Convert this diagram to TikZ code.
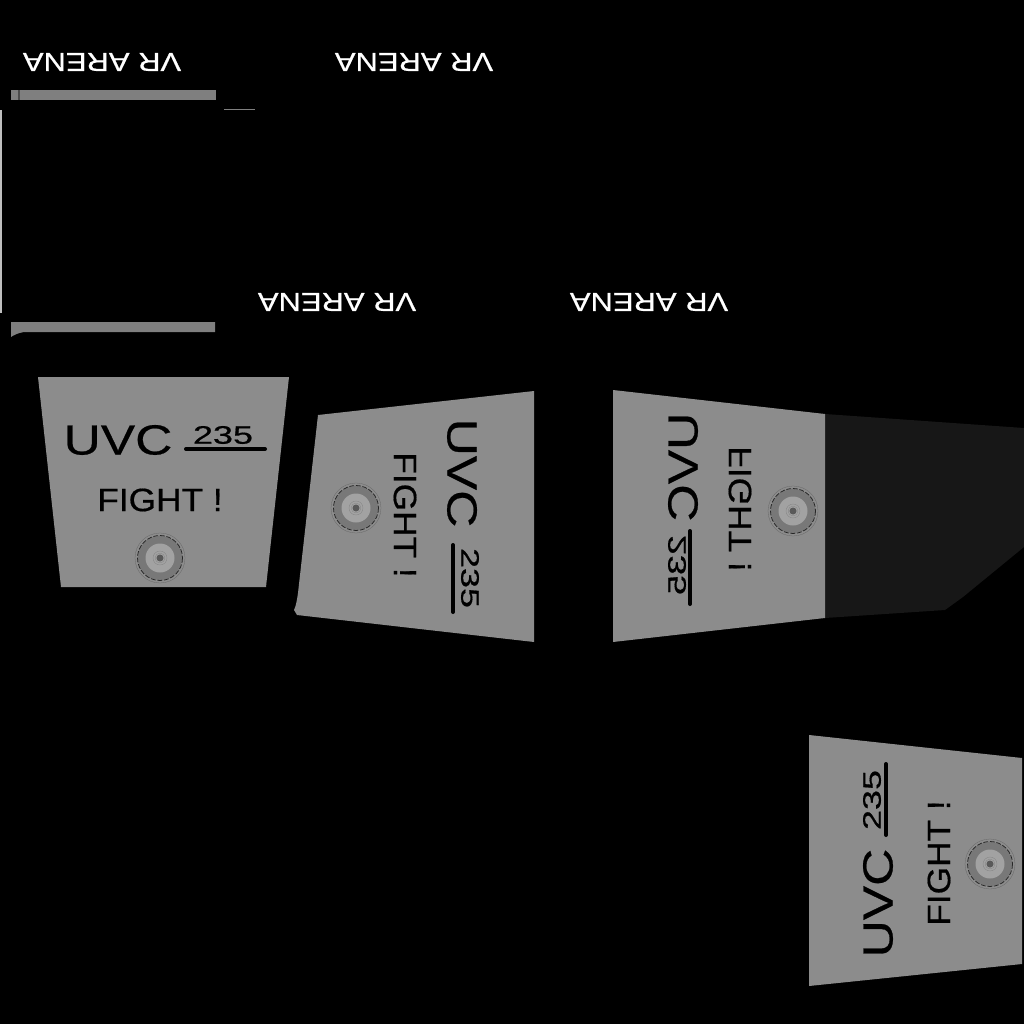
\documentclass[tikz,border=0pt]{standalone}
\usepackage{fontspec}
\setmainfont{Liberation Sans}
\newfontfamily\heavyfont[FakeBold=0.5]{Liberation Sans}
\usetikzlibrary{positioning,calc}
\definecolor{panelgray}{HTML}{8C8C8C}
\definecolor{bargray}{HTML}{7F7F7F}
\definecolor{ringgray}{HTML}{787878}
\definecolor{innergray}{HTML}{A2A2A2}
\definecolor{darkwing}{HTML}{171717}
\tikzset{
  panel/.style={fill=panelgray,draw=none},
  uvcname/.style={font=\heavyfont\fontsize{30}{30}\selectfont,text=black,inner sep=0pt,xscale=1.22},
  uvcnum/.style={font=\heavyfont\fontsize{18}{18}\selectfont,text=black,inner sep=0pt,xscale=1.42},
  fighttext/.style={font=\heavyfont\fontsize{23}{23}\selectfont,text=black,inner sep=0pt,xscale=1.09},
  arenatext/.style={font=\heavyfont\fontsize{18.5}{18.5}\selectfont,text=white,inner sep=0pt,xscale=1.19},
  underrule/.style={line width=0.1cm,line cap=round,black},
}
% disc with its rings, at a given centre
\newcommand{\discmark}[1]{
  \fill[ringgray] (#1) circle (22);
  \draw[gray!80!black,very thin] (#1) circle (25);
  \draw[black!85,line width=0.55pt,dash pattern=on 3.5pt off 1.2pt] (#1) circle (22.5);
  \fill[innergray] (#1) circle (14.5);
  \draw[gray!90!black,ultra thin] (#1) circle (7);
  \draw[gray!90!black,ultra thin] (#1) circle (5);
  \fill[black!65] (#1) circle (3.5);
}
\begin{document}
\begin{tikzpicture}[x=0.025cm,y=-0.025cm]
\useasboundingbox (0,0) rectangle (1024,1024);
\fill[black] (0,0) rectangle (1024,1024);

% strips at the top left
\fill[bargray] (11,90) rectangle (216,100);
\fill[black!70] (18,90) rectangle (20,100);
\fill[bargray] (11,322) -- (215,322) -- (215,332) -- (24,332) .. controls (18,333) and (14,335) .. (11,337) -- cycle;
\draw[gray,very thin] (224,109) -- (255,109);
\fill[lightgray] (0,110) rectangle (2,313);

% top texts
\node[rotate=180,arenatext] (arenaA) at (102,62) {VR ARENA};
\node[rotate=180,arenatext] (arenaB) at (414,62) {VR ARENA};
\node[rotate=180,arenatext] (arenaC) at (337,302) {VR ARENA};
\node[rotate=180,arenatext] (arenaD) at (649,302) {VR ARENA};

% upright panel
\fill[panel] (38,377) -- (289,377) -- (266,587) -- (61,587) -- cycle;
\node[uvcname] (uvcA) at (118,440) {UVC};
\node[uvcnum] (numA) at (223,435) {235};
\draw[underrule] (186,449) -- (265,449);
\node[fighttext] (fightA) at (160,500) {FIGHT !};
\discmark{160,558}

% panel turned clockwise
\fill[panel] (318,415) -- (534,391) -- (534,642) -- (297,615) -- (294,610) .. controls (296,606) and (297,600) .. (298,593) -- cycle;
\node[rotate=-90,uvcname] (uvcB) at (462,473) {UVC};
\node[rotate=-90,uvcnum] (numB) at (470,578) {235};
\draw[underrule] (453,545) -- (453,612);
\node[rotate=-90,fighttext] (fightB) at (405,515) {FIGHT !};
\discmark{356,508}

% mirrored panel and the dark part behind it
\fill[darkwing] (825,414) -- (1024,428) -- (1024,547) -- (963,597) -- (945,610) -- (825,618) -- cycle;
\fill[panel] (613,390) -- (825,414) -- (825,618) -- (613,642) -- cycle;
\node[rotate=-90,yscale=-1,uvcname] (uvcC) at (683,467) {UVC};
\node[rotate=-90,yscale=-1,uvcnum] (numC) at (677,565) {235};
\draw[underrule] (690,531) -- (690,604);
\node[rotate=-90,yscale=-1,fighttext] (fightC) at (740,509) {FIGHT !};
\discmark{793,511}

% panel turned anticlockwise
\fill[panel] (809,735) -- (1022,758) -- (1022,964) -- (809,986) -- cycle;
\node[rotate=90,uvcname] (uvcD) at (878,903) {UVC};
\node[rotate=90,uvcnum] (numD) at (872,800) {235};
\draw[underrule] (886,764) -- (886,835);
\node[rotate=90,fighttext] (fightD) at (939,863) {FIGHT !};
\discmark{990,864}
\end{tikzpicture}
\end{document}
